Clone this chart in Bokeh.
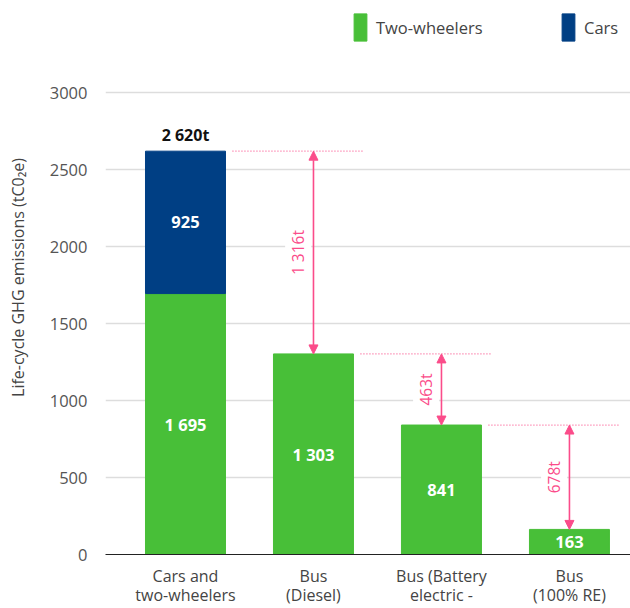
from bokeh.plotting import figure
from bokeh.models import (ColumnDataSource, Range1d, FixedTicker, Legend, LegendItem,
                          Arrow, NormalHead)
from bokeh.core.properties import value
from bokeh.embed import file_html
from bokeh.resources import INLINE

categories = ["Cars and\ntwo-wheelers", "Bus\n(Diesel)", "Bus (Battery\nelectric -", "Bus\n(100% RE)"]
two_wheelers = [1695, 1303, 841, 163]
cars = [925, 0, 0, 0]
diff_labels = ["1 316t", "463t", "678t"]
y_ticks = [0, 500, 1000, 1500, 2000, 2500, 3000]

GREEN = "#48bf38"
BLUE = "#003f84"
PINK = "#fb4c8a"
FONT = "Open Sans"

def fmt(v):
    return f"{v:,}".replace(",", " ")

xs = list(range(len(categories)))
totals = [a + b for a, b in zip(two_wheelers, cars)]

# frame spans the full height above the axis; 3000 sits 92px below the top
Y_MAX = 3000
Y_TOP = Y_MAX * 553 / 461

p = figure(width=630, height=608, output_backend="svg", toolbar_location=None,
           x_range=Range1d(-0.625, 3.477), y_range=Range1d(0, Y_TOP),
           min_border_left=105, min_border_right=0, min_border_top=0, min_border_bottom=50)
p.outline_line_color = None
p.background_fill_color = "white"
p.border_fill_color = "white"

src = ColumnDataSource(dict(x=xs, tw=two_wheelers, cars=cars, tot=totals,
                            tw_lab=[fmt(v) for v in two_wheelers],
                            tw_y=[v / 2 for v in two_wheelers]))

r_tw = p.vbar(x="x", top="tw", bottom=0, width=0.625, color=GREEN, source=src)
car_src = ColumnDataSource(dict(x=[xs[0]], bottom=[two_wheelers[0]], top=[totals[0]]))
r_car = p.vbar(x="x", top="top", bottom="bottom", width=0.625, color=BLUE, source=car_src)

# inside labels
p.text(x="x", y="tw_y", text="tw_lab", source=src, text_color="white",
       text_font=value(FONT), text_font_style="bold", text_font_size="16.5px",
       text_align="center", text_baseline="middle")
p.text(x=[xs[0]], y=[two_wheelers[0] + cars[0] / 2], text=[fmt(cars[0])], text_color="white",
       text_font=value(FONT), text_font_style="bold", text_font_size="16.5px",
       text_align="center", text_baseline="middle")
p.text(x=[xs[0]], y=[totals[0]], text=[fmt(totals[0]) + "t"], text_color="#111111",
       text_font=value(FONT), text_font_style="bold", text_font_size="16px",
       text_align="center", text_baseline="bottom", y_offset=-5)

# dotted reference lines and arrows
for i in range(1, len(xs)):
    prev = totals[i - 1]
    cur = totals[i]
    p.segment(x0=[xs[i - 1] + 0.367], x1=[xs[i] + 0.39], y0=[prev], y1=[prev],
              line_color=PINK, line_width=1.2, line_dash="1 2", line_alpha=0.9)
    p.add_layout(Arrow(x_start=xs[i], y_start=cur, x_end=xs[i], y_end=prev,
                       line_color=PINK, line_width=1.6,
                       start=NormalHead(size=9, fill_color=PINK, line_color=PINK),
                       end=NormalHead(size=9, fill_color=PINK, line_color=PINK)))
    p.text(x=[xs[i] - 0.12], y=[(prev + cur) / 2], text=[diff_labels[i - 1]], angle=1.5708,
           text_color=PINK, text_font=value(FONT), text_font_size="15.5px",
           text_align="center", text_baseline="middle",
           background_fill_color="white", padding=2)

# axes
p.yaxis.ticker = FixedTicker(ticks=y_ticks)
p.yaxis.bounds = (0, Y_MAX)
p.yaxis.axis_line_color = None
p.yaxis.major_tick_line_color = None
p.yaxis.minor_tick_line_color = None
p.yaxis.major_label_text_font = FONT
p.yaxis.major_label_text_font_size = "16.5px"
p.yaxis.major_label_text_color = "#555555"
p.yaxis.major_label_standoff = 12
p.yaxis.axis_label = "Life-cycle GHG emissions (tC0\u2082e)"
p.yaxis.axis_label_text_font = FONT
p.yaxis.axis_label_text_font_size = "16px"
p.yaxis.axis_label_text_font_style = "normal"
p.yaxis.axis_label_text_color = "#444444"
p.yaxis.axis_label_standoff = 18

p.xaxis.ticker = FixedTicker(ticks=xs)
p.xaxis.major_label_overrides = {i: c for i, c in zip(xs, categories)}
p.xaxis.axis_line_color = "#222222"
p.xaxis.axis_line_width = 1
p.xaxis.major_tick_line_color = None
p.xaxis.minor_tick_line_color = None
p.xaxis.major_label_text_font = FONT
p.xaxis.major_label_text_font_size = "16px"
p.xaxis.major_label_text_color = "#444444"
p.xaxis.major_label_text_line_height = 0.88
p.xaxis.major_label_standoff = 4

p.xgrid.grid_line_color = None
p.ygrid.grid_line_color = "#dddddd"
p.ygrid.grid_line_width = 1.5

# legends (location = bottom-left of legend box, px from frame bottom-left)
for item, loc in [(LegendItem(label="Two-wheelers", renderers=[r_tw]), (247, 510)),
                  (LegendItem(label="Cars", renderers=[r_car]), (455, 510))]:
    lg = Legend(items=[item], location=loc, orientation="horizontal",
                glyph_width=16, glyph_height=34, label_standoff=8,
                padding=0, margin=0, border_line_color=None, background_fill_alpha=0,
                label_text_font=FONT, label_text_font_size="16.5px", label_text_color="#444444",
                label_height=34)
    p.add_layout(lg, "center")

open("out.html", "w").write(file_html(p, INLINE))
